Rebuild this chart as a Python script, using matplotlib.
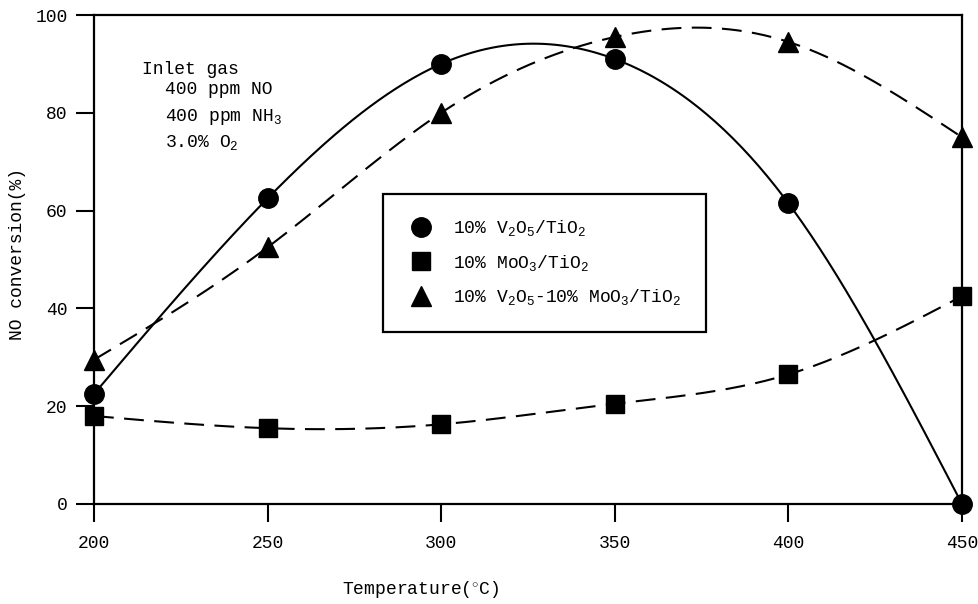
import numpy as np
import matplotlib
matplotlib.use("Agg")
import matplotlib.pyplot as plt
from matplotlib.lines import Line2D

plt.rcParams["font.family"] = ["Liberation Mono", "DejaVu Sans"]
plt.rcParams["mathtext.fontset"] = "custom"
plt.rcParams["mathtext.rm"] = "Liberation Mono"
plt.rcParams["mathtext.it"] = "Liberation Mono"

temps = [200, 250, 300, 350, 400, 450]
v2o5 = [22.5, 62.5, 90.0, 91.0, 61.5, 0.0]
moo3 = [18.0, 15.5, 16.3, 20.5, 26.5, 42.5]
v2o5_moo3 = [29.5, 52.5, 80.0, 95.5, 94.5, 75.0]

labels = ["10% V$_2$O$_5$/TiO$_2$", "10% MoO$_3$/TiO$_2$",
          "10% V$_2$O$_5$-10% MoO$_3$/TiO$_2$"]
inlet = ["Inlet gas", "400 ppm NO", "400 ppm NH$_3$", "3.0% O$_2$"]

FS = 13


def spline(x, y, n=300):
    # natural cubic spline, just for the smooth guide curves
    x = np.asarray(x, float); y = np.asarray(y, float)
    k = len(x); h = np.diff(x)
    A = np.zeros((k, k)); b = np.zeros(k)
    A[0, 0] = A[-1, -1] = 1
    for i in range(1, k - 1):
        A[i, i - 1] = h[i - 1]; A[i, i] = 2 * (h[i - 1] + h[i]); A[i, i + 1] = h[i]
        b[i] = 3 * ((y[i + 1] - y[i]) / h[i] - (y[i] - y[i - 1]) / h[i - 1])
    c = np.linalg.solve(A, b)
    xs = np.linspace(x[0], x[-1], n)
    j = np.clip(np.searchsorted(x, xs) - 1, 0, k - 2)
    t = xs - x[j]
    bb = (y[j + 1] - y[j]) / h[j] - h[j] * (2 * c[j] + c[j + 1]) / 3
    d = (c[j + 1] - c[j]) / (3 * h[j])
    return xs, y[j] + bb * t + c[j] * t ** 2 + d * t ** 3


fig = plt.figure(figsize=(9.79, 6.04), dpi=100)
ax = fig.add_axes([94 / 979, 1 - 504 / 604, 868 / 979, 489 / 604])

dash = (0, (9.5, 5))
for ys, ls in [(v2o5, "-"), (moo3, dash), (v2o5_moo3, dash)]:
    xs, yy = spline(temps, ys)
    ax.plot(xs, yy, color="black", lw=1.5, linestyle=ls, zorder=2)

mk = [("o", 14), ("s", 12.5), ("^", 14)]
for ys, (m, s) in zip([v2o5, moo3, v2o5_moo3], mk):
    ax.plot(temps, ys, linestyle="none", marker=m, ms=s, color="black",
            clip_on=False, zorder=3)

ax.set_xlim(200, 450)
ax.set_ylim(0, 100)
ax.set_xticks(temps)
ax.set_yticks([0, 20, 40, 60, 80, 100])
ax.tick_params(direction="out", length=13, width=1.5, labelsize=FS)
ax.tick_params(axis="x", pad=9)
ax.tick_params(axis="y", pad=6)
for sp in ax.spines.values():
    sp.set_linewidth(1.6)

fig.text(18 / 979, 1 - 254 / 604, "NO conversion(%)", fontsize=FS,
         rotation=90, ha="center", va="center")
fig.text(421 / 979, 1 - 590 / 604, "Temperature($^{\\circ}$C)", fontsize=FS,
         ha="center", va="center")

for (x, y), s in zip([(213.8, 88.8), (220.4, 84.7), (220.4, 79.2), (220.4, 73.9)], inlet):
    ax.text(x, y, s, fontsize=FS, va="center")

handles = [Line2D([], [], linestyle="none", marker=m, ms=s, color="black")
           for m, s in mk]
leg = ax.legend(handles, labels, loc="upper left", bbox_to_anchor=(0.333, 0.634),
                borderaxespad=0, fontsize=FS, frameon=True, fancybox=False,
                framealpha=1, handletextpad=1.0, labelspacing=0.8, borderpad=1.35,
                handlelength=1.55)
leg.get_frame().set_edgecolor("black")
leg.get_frame().set_linewidth(1.6)

fig.savefig("out.png", dpi=100)
